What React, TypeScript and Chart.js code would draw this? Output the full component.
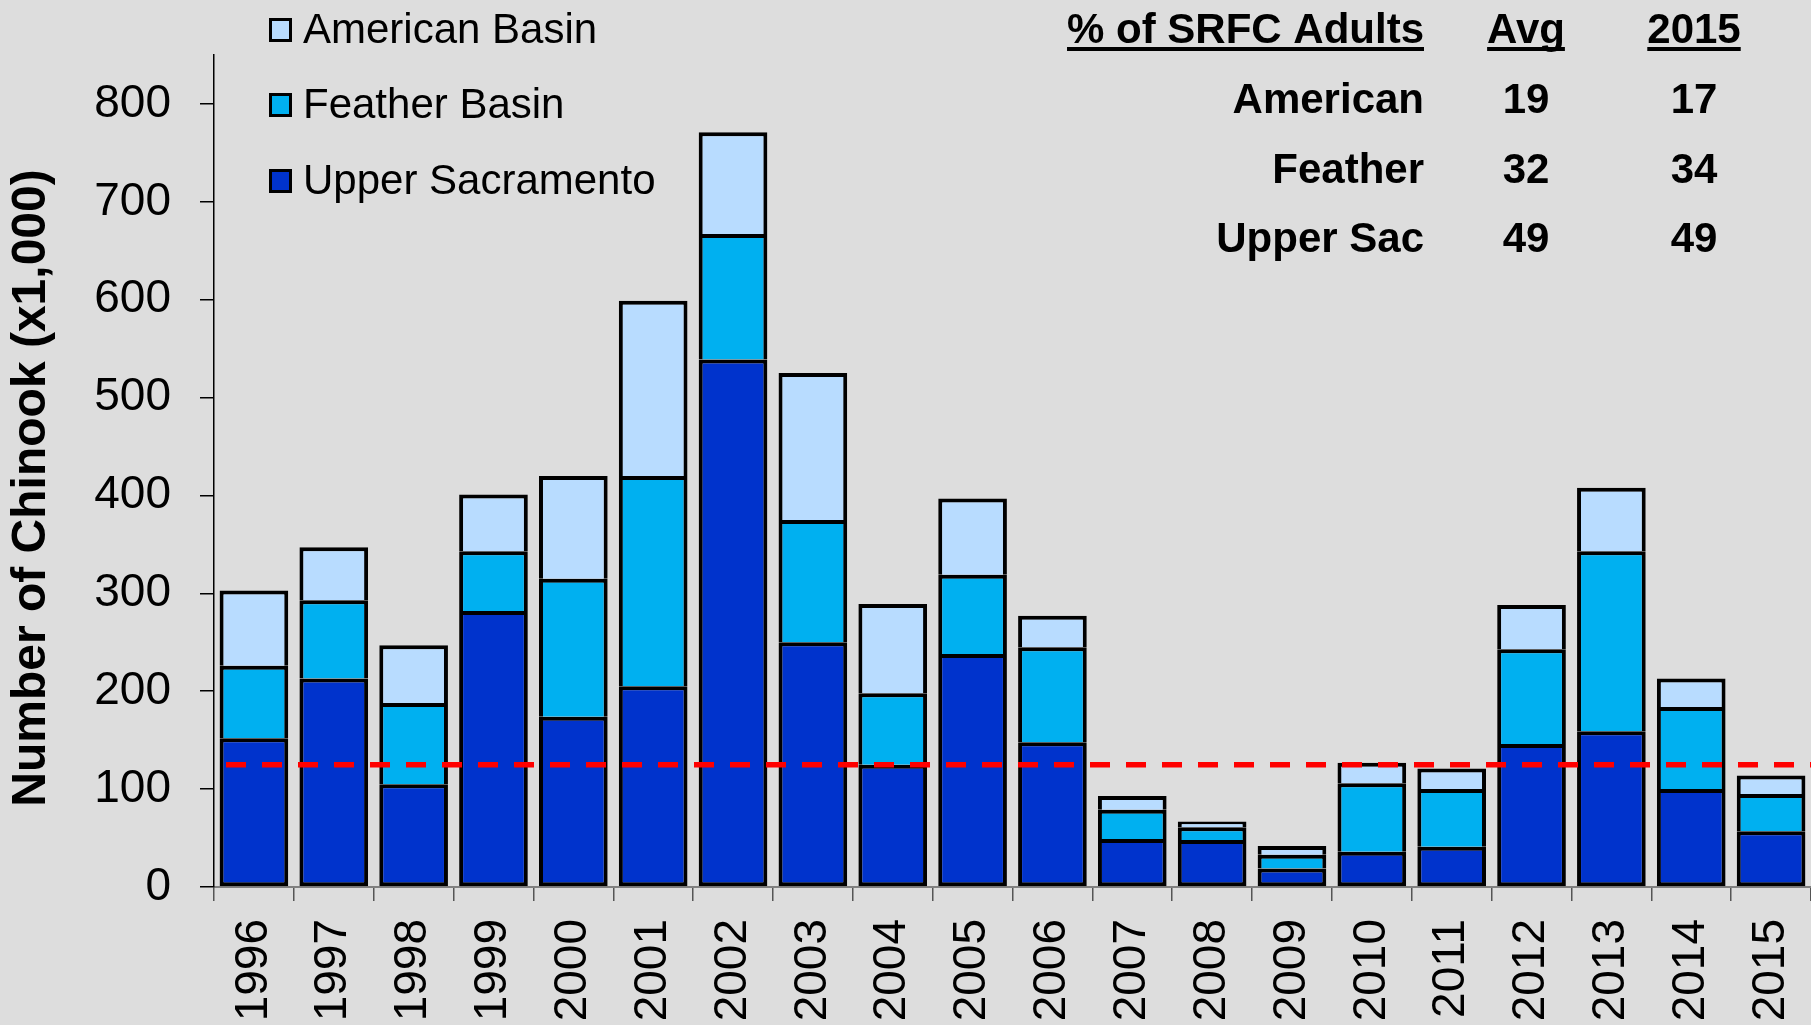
import React, { useEffect, useRef } from 'react';
import { Chart, registerables } from 'chart.js';

Chart.register(...registerables);

const years = ['1996', '1997', '1998', '1999', '2000', '2001', '2002', '2003', '2004', '2005', '2006', '2007', '2008', '2009', '2010', '2011', '2012', '2013', '2014', '2015'];
const upperSacramento = [152, 213, 105, 282, 174, 205, 539, 250, 125, 238, 148, 49, 48, 19, 36, 41, 146, 159, 100, 57];
const featherBasin = [74, 80, 83, 61, 141, 215, 128, 125, 73, 81, 97, 30, 13, 14, 70, 59, 97, 184, 84, 38];
const americanBasin = [77, 54, 59, 58, 105, 179, 104, 150, 91, 78, 32, 14, 6, 9, 21, 21, 45, 65, 29, 19];
const conservationLine = 125;
const yMax = 850;
const yTickValues = [0, 100, 200, 300, 400, 500, 600, 700, 800];

const seriesNames = ['Upper Sacramento', 'Feather Basin', 'American Basin'];
const seriesColors = ['#0033CC', '#00B0F0', '#B8DCFF'];

const tableHeader = ['% of SRFC Adults', 'Avg', '2015'];
const tableRows = ['American', 'Feather', 'Upper Sac'];
const tableAvg = ['19', '32', '49'];
const table2015 = ['17', '34', '49'];
const yTitle = 'Number of Chinook (x1,000)';

const FONT = '"Liberation Sans", Arial, sans-serif';

const overlayPlugin = {
  id: 'overlay',
  beforeDraw(chart: any) {
    const { ctx, width, height } = chart;
    ctx.save();
    ctx.fillStyle = '#DDDDDD';
    ctx.fillRect(0, 0, width, height);
    ctx.restore();
  },
  afterDatasetsDraw(chart: any) {
    const { ctx, chartArea } = chart;
    const y = chart.scales.y.getPixelForValue(conservationLine);
    ctx.save();
    ctx.strokeStyle = '#FF0000';
    ctx.lineWidth = 5.5;
    ctx.setLineDash([20, 16]);
    ctx.beginPath();
    ctx.moveTo(chartArea.left + 12, y);
    ctx.lineTo(chartArea.right, y);
    ctx.stroke();
    ctx.restore();
  },
  afterDraw(chart: any) {
    const { ctx } = chart;
    ctx.save();
    // legend (top to bottom: American, Feather, Upper Sac)
    const legendOrder = [2, 1, 0];
    const baselines = [43, 118, 194];
    legendOrder.forEach((si, i) => {
      const b = baselines[i];
      const top = b - 25;
      ctx.fillStyle = seriesColors[si];
      ctx.fillRect(269, top, 23, 24);
      ctx.strokeStyle = '#000';
      ctx.lineWidth = 3;
      ctx.strokeRect(270.5, top + 1.5, 20, 21);
      ctx.fillStyle = '#000';
      ctx.font = `42px ${FONT}`;
      ctx.textAlign = 'left';
      ctx.textBaseline = 'alphabetic';
      ctx.fillText(seriesNames[si], 303, b);
    });

    // table
    ctx.fillStyle = '#000';
    ctx.font = `bold 42px ${FONT}`;
    ctx.textBaseline = 'alphabetic';
    const headerY = 43;
    const colRight = 1424;
    const avgX = 1526;
    const yrX = 1694;
    const drawUnderlined = (text: string, x: number, align: 'right' | 'center') => {
      ctx.textAlign = align;
      ctx.fillText(text, x, headerY);
      const w = ctx.measureText(text).width;
      const x0 = align === 'right' ? x - w : x - w / 2;
      ctx.fillRect(x0, headerY + 4, w, 4);
    };
    drawUnderlined(tableHeader[0], colRight, 'right');
    drawUnderlined(tableHeader[1], avgX, 'center');
    drawUnderlined(tableHeader[2], yrX, 'center');

    const rowY = [113, 183, 252];
    tableRows.forEach((r, i) => {
      ctx.textAlign = 'right';
      ctx.fillText(r, colRight, rowY[i]);
      ctx.textAlign = 'center';
      ctx.fillText(tableAvg[i], avgX, rowY[i]);
      ctx.fillText(table2015[i], yrX, rowY[i]);
    });

    // y axis title
    ctx.save();
    ctx.translate(32, 488);
    ctx.rotate(-Math.PI / 2);
    ctx.font = `bold 48px ${FONT}`;
    ctx.textAlign = 'center';
    ctx.textBaseline = 'middle';
    ctx.fillText(yTitle, 0, 0);
    ctx.restore();

    ctx.restore();
  },
};

export default function App() {
  const canvasRef = useRef<HTMLCanvasElement | null>(null);

  useEffect(() => {
    const canvas = canvasRef.current;
    if (!canvas) return;
    const data = [upperSacramento, featherBasin, americanBasin];
    const chart = new Chart(canvas, {
      type: 'bar',
      data: {
        labels: years,
        datasets: data.map((vals, i) => ({
          label: seriesNames[i],
          data: vals,
          backgroundColor: seriesColors[i],
          borderColor: '#000000',
          borderWidth: i === 0 ? 4 : { top: 4, left: 4, right: 4, bottom: 0 },
          borderSkipped: false,
          barPercentage: 0.86,
          categoryPercentage: 1.0,
        })),
      },
      options: {
        animation: false,
        responsive: false,
        devicePixelRatio: 1,
        layout: { padding: { top: 55, left: 0, right: 0, bottom: 0 } },
        plugins: {
          legend: { display: false },
          tooltip: { enabled: false },
          title: { display: false },
        },
        scales: {
          x: {
            stacked: true,
            offset: true,
            grid: {
              display: true,
              drawOnChartArea: false,
              drawTicks: true,
              tickLength: 14,
              color: '#555555',
              lineWidth: 1.5,
              offset: true,
            },
            border: { display: true, color: '#808080', width: 2 },
            ticks: {
              color: '#000',
              font: { family: FONT, size: 46 },
              maxRotation: 90,
              minRotation: 90,
              padding: 18,
              autoSkip: false,
            },
            afterFit(scale: any) {
              scale.height = 138;
              scale.paddingLeft = 0;
              scale.paddingRight = 0;
            },
          },
          y: {
            stacked: true,
            min: 0,
            max: yMax,
            grid: {
              display: true,
              drawOnChartArea: false,
              drawTicks: true,
              tickLength: 14,
              color: '#000000',
              lineWidth: 1.5,
            },
            border: { display: true, color: '#000000', width: 1.5 },
            ticks: {
              color: '#000',
              font: { family: FONT, size: 46 },
              padding: 29,
            },
            afterBuildTicks(scale: any) {
              scale.ticks = yTickValues.map((v) => ({ value: v }));
            },
            afterFit(scale: any) {
              scale.width = 214;
              scale.paddingTop = 0;
              scale.paddingBottom = 0;
            },
          },
        },
      },
      plugins: [overlayPlugin],
    });
    return () => chart.destroy();
  }, []);

  return (
    <div style={{ position: 'fixed', left: 0, top: 0, width: 1811, height: 1025, background: '#DDDDDD' }}>
      <canvas ref={canvasRef} width={1811} height={1025} style={{ display: 'block', width: 1811, height: 1025 }} />
    </div>
  );
}
